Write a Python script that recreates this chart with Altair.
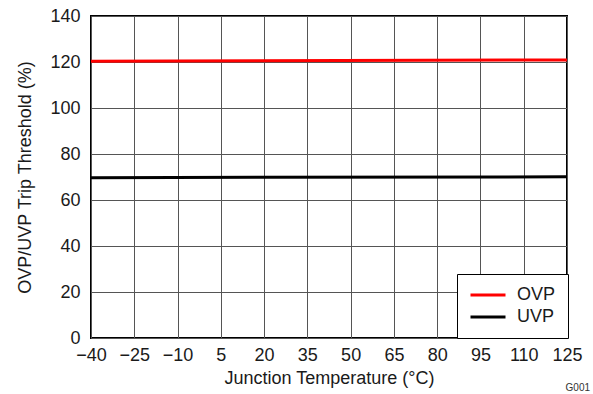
import altair as alt
import pandas as pd

temps = [-40, 125]
ovp = [120.3, 120.9]
uvp = [69.7, 70.1]
series = ["OVP", "UVP"]
colors = ["#ff0000", "#000000"]
x_ticks = [-40, -25, -10, 5, 20, 35, 50, 65, 80, 95, 110, 125]
y_ticks = [0, 20, 40, 60, 80, 100, 120, 140]

rows = []
for t, v in zip(temps, ovp):
    rows.append({"T": t, "V": v, "S": "OVP"})
for t, v in zip(temps, uvp):
    rows.append({"T": t, "V": v, "S": "UVP"})
df = pd.DataFrame(rows)

FONT = "Liberation Sans"
TXT = "#1a1a1a"

chart = alt.Chart(df).mark_line(strokeWidth=3).encode(
    x=alt.X("T:Q", scale=alt.Scale(domain=[-40, 125], nice=False),
            axis=alt.Axis(values=x_ticks, title="Junction Temperature (°C)",
                          labelExpr="replace(datum.label, '-', '−')",
                          grid=True, gridColor="#555555", gridWidth=1,
                          domain=False, ticks=False, labelPadding=8,
                          labelFontSize=18, titleFontSize=18, titlePadding=5,
                          titleFontWeight="normal",
                          labelColor=TXT, titleColor=TXT,
                          labelFont=FONT, titleFont=FONT, labelFlush=False)),
    y=alt.Y("V:Q", scale=alt.Scale(domain=[0, 140], nice=False),
            axis=alt.Axis(values=y_ticks, title="OVP/UVP Trip Threshold (%)",
                          grid=True, gridColor="#555555", gridWidth=1,
                          domain=False, ticks=False, labelPadding=11,
                          labelFontSize=18, titleFontSize=18, titlePadding=15,
                          titleFontWeight="normal",
                          labelColor=TXT, titleColor=TXT,
                          labelFont=FONT, titleFont=FONT)),
    color=alt.Color("S:N", scale=alt.Scale(domain=series, range=colors),
                    legend=alt.Legend(title=None, orient="none", legendX=366, legendY=258,
                                      symbolType="stroke", symbolSize=1225,
                                      symbolStrokeWidth=3, labelFontSize=18,
                                      labelFont=FONT, labelColor=TXT,
                                      clipHeight=18,
                                      fillColor="white", strokeColor="black",
                                      padding=12, rowPadding=4, labelOffset=10)),
).properties(
    width=476, height=322,
    title=alt.TitleParams("G001", orient="bottom", anchor="end", fontSize=10,
                          font=FONT, color="#333333", fontWeight="normal", offset=-4, dx=8),
    padding={"left": 91, "top": 16, "right": 26, "bottom": 56},
    autosize=alt.AutoSizeParams(type="none"),
).configure_view(stroke="black", strokeWidth=2)

chart.save("out.html", embed_options={"renderer": "svg", "actions": False})
